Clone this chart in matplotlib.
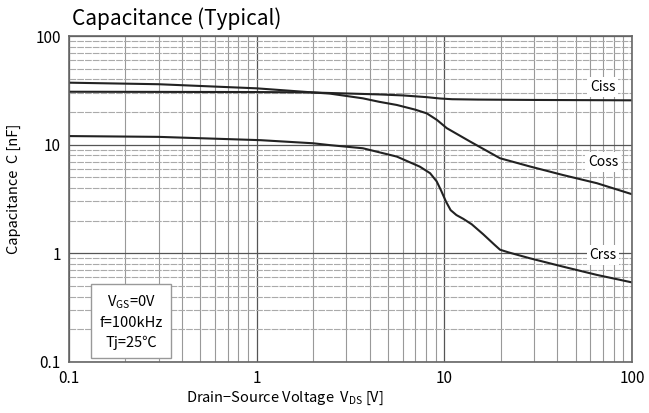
import matplotlib
matplotlib.use('Agg')
import matplotlib.pyplot as plt
from matplotlib.ticker import LogLocator, NullFormatter

plt.rcParams['font.family'] = ['Noto Sans CJK JP', 'DejaVu Sans']

# values (V_DS in V, C in nF)
vds_ciss = [0.1, 0.3, 1, 1.87, 3, 4.5, 6, 8, 9.5, 11, 15, 30, 100]
ciss = [30.7, 30.6, 30.5, 30.3, 29.6, 29.0, 28.4, 27.4, 26.6, 26.2, 26.0, 25.8, 25.6]

vds_coss = [0.1, 0.3, 1, 1.87, 2.46, 3.68, 4.5, 5.58, 7, 8.07, 9.13, 10.3, 13.7, 19.8, 28.6, 42.8, 65, 100]
coss = [37.2, 36.0, 33.0, 30.5, 29.5, 26.7, 24.8, 23.2, 21.0, 19.4, 16.9, 14.2, 10.7, 7.5, 6.3, 5.26, 4.42, 3.5]

vds_crss = [0.1, 0.3, 1.05, 2, 2.46, 3.68, 5.58, 7.4, 8.4, 9.1, 9.6, 10.2, 10.8, 11.6, 12.6, 14, 16.1, 18.5, 19.8, 22, 28.6, 42.8, 65, 100]
crss = [12.0, 11.8, 11.0, 10.3, 9.9, 9.27, 7.77, 6.28, 5.46, 4.6, 3.8, 3.0, 2.5, 2.25, 2.08, 1.85, 1.5, 1.2, 1.08, 1.02, 0.9, 0.755, 0.633, 0.54]

x_ticks = [0.1, 1, 10, 100]
x_labels = ['0.1', '1', '10', '100']
y_ticks = [0.1, 1, 10, 100]
y_labels = ['0.1', '1', '10', '100']

fig = plt.figure(figsize=(6.49, 4.13), dpi=100)
ax = fig.add_axes([0.1063, 0.1235, 0.8675, 0.7893])

ax.set_xscale('log')
ax.set_yscale('log')
ax.set_xlim(0.1, 100)
ax.set_ylim(0.1, 100)

# grid: vertical solid gray, horizontal lighter
ax.xaxis.set_minor_locator(LogLocator(base=10, subs=range(2, 10)))
ax.yaxis.set_minor_locator(LogLocator(base=10, subs=range(2, 10)))
ax.xaxis.set_minor_formatter(NullFormatter())
ax.yaxis.set_minor_formatter(NullFormatter())
ax.grid(True, axis='x', which='major', color='#555555', lw=0.9)
ax.grid(True, axis='x', which='minor', color='#999999', lw=0.8)
ax.grid(True, axis='y', which='major', color='#555555', lw=0.9)
ax.grid(True, axis='y', which='minor', color='#aaaaaa', lw=0.8, ls=(0, (6, 1)))
ax.set_axisbelow(True)

ax.plot(vds_ciss, ciss, color='#222222', lw=1.5)
ax.plot(vds_coss, coss, color='#222222', lw=1.5)
ax.plot(vds_crss, crss, color='#222222', lw=1.5)

ax.set_xticks(x_ticks)
ax.set_xticklabels(x_labels, fontsize=11)
ax.set_yticks(y_ticks)
ax.set_yticklabels(y_labels, fontsize=11)
ax.tick_params(which='both', length=0, pad=6)
for s in ax.spines.values():
    s.set_color('#666666')
    s.set_linewidth(1.2)

ax.set_xlabel('Drain\u2212Source Voltage  V$_\\mathregular{DS}$ [V]', fontsize=10.5, labelpad=2)
ax.xaxis.set_label_coords(0.384, -0.085)
ax.set_ylabel('Capacitance  C [nF]', fontsize=10.5)
ax.yaxis.set_label_coords(-0.085, 0.53)

fig.text(0.111, 0.955, 'Capacitance (Typical)', fontsize=15, va='center', ha='left')

lbl_box = dict(facecolor='white', edgecolor='none', pad=2)
ax.text(70, 34, 'Ciss', fontsize=10, ha='center', va='center', bbox=lbl_box)
ax.text(70, 6.9, 'Coss', fontsize=10, ha='center', va='center', bbox=lbl_box)
ax.text(70, 0.97, 'Crss', fontsize=10, ha='center', va='center', bbox=lbl_box)

ax.text(0.214, 0.235, 'V$_\\mathregular{GS}$=0V\nf=100kHz\nTj=25\u2103', fontsize=10.5,
        ha='center', va='center', linespacing=1.45,
        bbox=dict(facecolor='white', edgecolor='#999999', lw=1, pad=6))

plt.savefig('out.png', dpi=100)
plt.close(fig)
